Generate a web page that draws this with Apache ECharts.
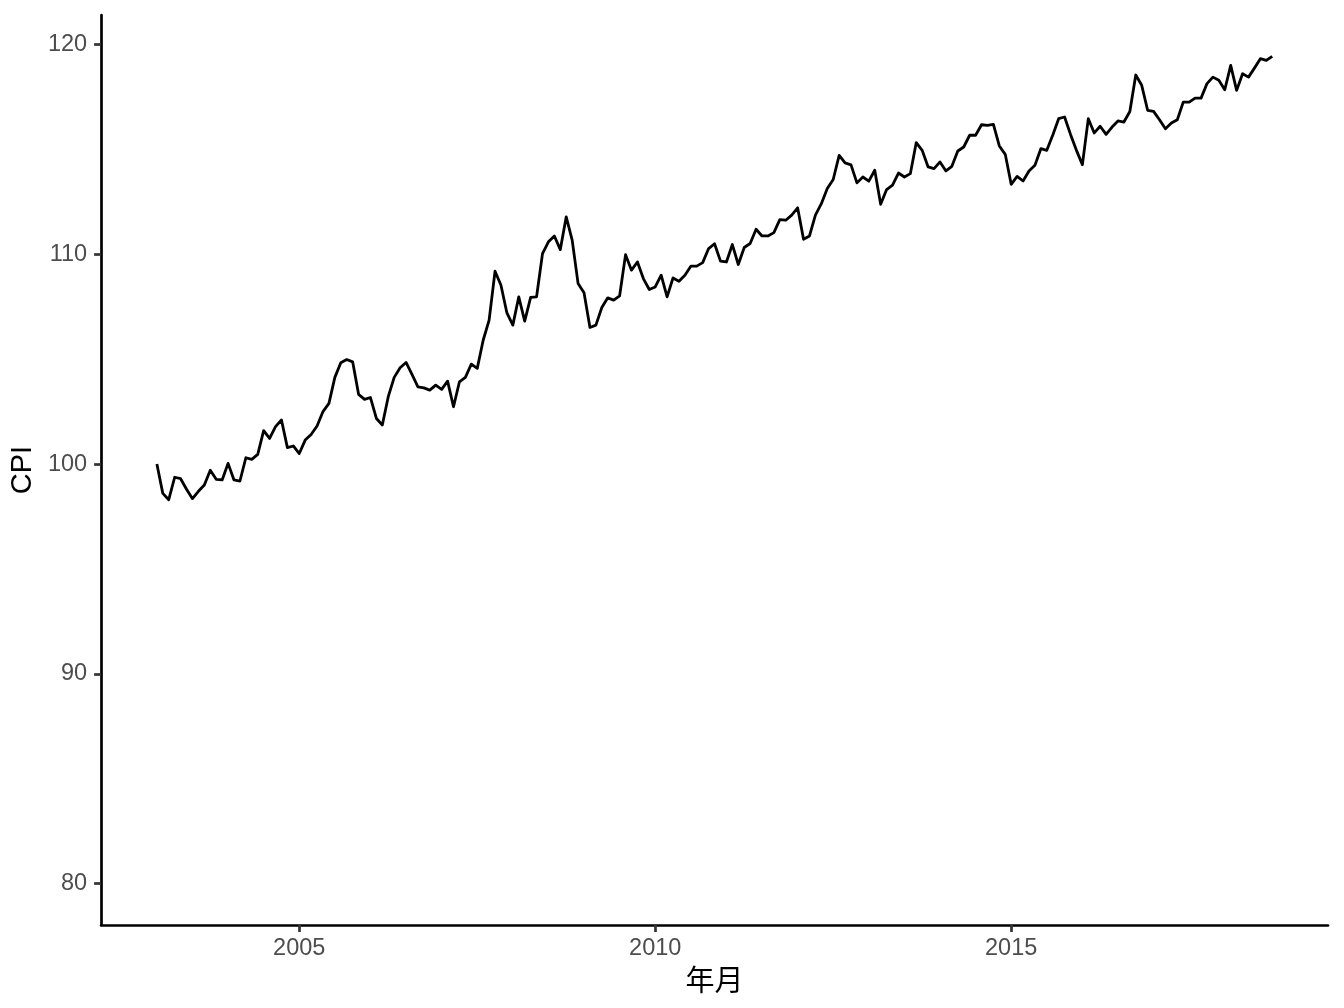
<!DOCTYPE html>
<html>
<head>
<meta charset="utf-8">
<script src="https://cdn.jsdelivr.net/npm/echarts@6/dist/echarts.min.js"></script>
<style>
html,body{margin:0;padding:0;background:#fff;}
#chart{width:1344px;height:1008px;}
</style>
</head>
<body>
<div id="chart"></div>
<script>
// Monthly CPI series, starting January 2003
const startYear = 2003;
const startMonth = 1;
const cpi = [
  100.0, 98.6, 98.3, 99.37, 99.3, 98.8, 98.35, 98.7, 99.0, 99.7, 99.27, 99.24,
  100.03, 99.24, 99.19, 100.3, 100.22, 100.46, 101.59, 101.22, 101.78, 102.1, 100.78, 100.86,
  100.5, 101.14, 101.41, 101.81, 102.5, 102.89, 104.13, 104.83, 104.98, 104.87, 103.32, 103.08,
  103.17, 102.17, 101.86, 103.21, 104.13, 104.59, 104.84, 104.27, 103.68, 103.63, 103.52, 103.76,
  103.56, 103.95, 102.73, 103.92, 104.13, 104.76, 104.56, 105.9, 106.86, 109.19, 108.52, 107.2,
  106.62, 107.97, 106.81, 107.94, 107.97, 110.03, 110.59, 110.87, 110.22, 111.78, 110.67, 108.6,
  108.16, 106.51, 106.62, 107.46, 107.92, 107.81, 108.02, 109.98, 109.24, 109.63, 108.84, 108.32,
  108.44, 109.0, 107.97, 108.87, 108.71, 109.0, 109.43, 109.43, 109.6, 110.27, 110.5, 109.67,
  109.63, 110.46, 109.51, 110.32, 110.51, 111.19, 110.87, 110.87, 111.03, 111.65, 111.62, 111.86,
  112.21, 110.71, 110.87, 111.86, 112.41, 113.13, 113.56, 114.71, 114.35, 114.26, 113.4, 113.68,
  113.48, 114.0, 112.38, 113.08, 113.29, 113.87, 113.68, 113.84, 115.32, 114.95, 114.16, 114.08,
  114.4, 113.97, 114.19, 114.92, 115.11, 115.67, 115.67, 116.17, 116.14, 116.19, 115.16, 114.76,
  113.33, 113.71, 113.49, 113.97, 114.24, 115.03, 114.95, 115.67, 116.46, 116.54, 115.71, 114.95,
  114.27, 116.46, 115.78, 116.1, 115.71, 116.06, 116.35, 116.3, 116.8, 118.54, 118.05, 116.86,
  116.81, 116.41, 115.98, 116.25, 116.41, 117.25, 117.25, 117.44, 117.44, 118.13, 118.44, 118.29,
  117.84, 119.0, 117.81, 118.6, 118.44, 118.87, 119.32, 119.24, 119.43
];
const xTicks = [2005, 2010, 2015];
const yTicks = [80, 90, 100, 110, 120];

const seriesData = cpi.map((v, i) => [startYear + (startMonth - 1 + i) / 12, v]);

// ggplot-style 5% expansion
const xMinD = seriesData[0][0], xMaxD = seriesData[seriesData.length - 1][0];
const xPad = (xMaxD - xMinD) * 0.05;
const yLo = 80, yHi = Math.max(...cpi);
const yPad = (yHi - yLo) * 0.05;

const chart = echarts.init(document.getElementById('chart'), null, {renderer: 'canvas'});
chart.setOption({
  animation: false,
  backgroundColor: '#ffffff',
  grid: {left: 101, right: 16, top: 15, bottom: 83, containLabel: false},
  xAxis: {
    type: 'value',
    min: xMinD - xPad,
    max: xMaxD + xPad,
    name: '年月',
    nameLocation: 'middle',
    nameGap: 33,
    nameTextStyle: {fontFamily: 'Noto Sans CJK SC', fontSize: 29, color: '#000'},
    axisLine: {show: true, onZero: false, lineStyle: {color: '#000', width: 2.7}},
    axisTick: {show: true, length: 7, lineStyle: {color: '#333', width: 2.7}, customValues: xTicks},
    axisLabel: {show: true, margin: 12, color: '#4d4d4d', fontFamily: 'Liberation Sans', fontSize: 23.5,
      customValues: xTicks, formatter: v => String(Math.round(v))},
    splitLine: {show: false}
  },
  yAxis: {
    type: 'value',
    min: yLo - yPad,
    max: yHi + yPad,
    name: 'CPI',
    nameLocation: 'middle',
    nameGap: 58,
    nameRotate: 90,
    nameTextStyle: {fontFamily: 'Liberation Sans', fontSize: 29, color: '#000'},
    axisLine: {show: true, onZero: false, lineStyle: {color: '#000', width: 2.7}},
    axisTick: {show: true, length: 7, lineStyle: {color: '#333', width: 2.7}, customValues: yTicks},
    axisLabel: {show: true, margin: 14, color: '#4d4d4d', fontFamily: 'Liberation Sans', fontSize: 23.5,
      customValues: yTicks, formatter: v => String(Math.round(v))},
    splitLine: {show: false}
  },
  series: [{
    type: 'line',
    data: seriesData,
    showSymbol: false,
    symbol: 'none',
    lineStyle: {color: '#000', width: 2.8, join: 'round'},
    z: 3
  }]
});
</script>
</body>
</html>
